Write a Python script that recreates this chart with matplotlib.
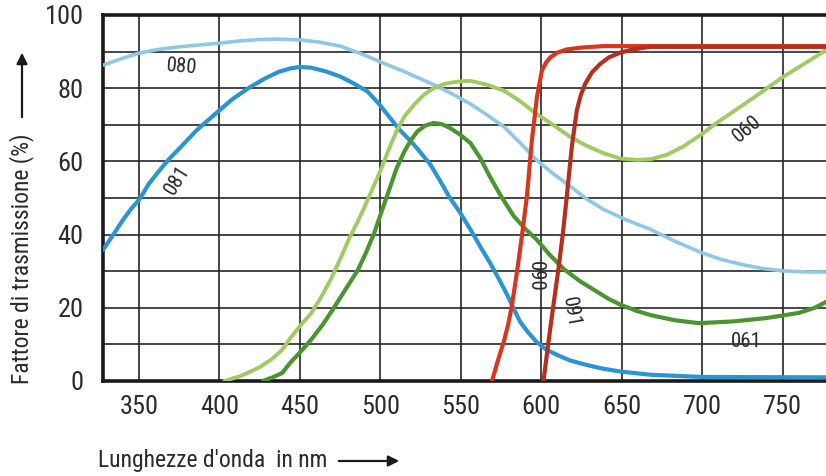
import matplotlib
matplotlib.use("Agg")
import matplotlib.pyplot as plt
from matplotlib import font_manager

# ---------------- data ----------------
wl_080 = [327.6, 340, 350, 362, 375, 387, 400, 412, 425, 437, 450, 462, 475, 487, 500, 515, 531, 544, 556, 566,
          577, 587, 597, 607, 618, 628, 639, 653, 668, 684, 700, 712, 725, 738, 750, 765, 777]
t_080 = [86.3, 88.2, 89.6, 90.6, 91.3, 91.8, 92.3, 92.9, 93.3, 93.4, 93.2, 92.6, 91.5, 89.6, 87.2, 84.5, 81.4, 78.6, 75.7, 72.8,
         69.4, 65.0, 60.4, 56.8, 53.2, 49.8, 46.8, 44.0, 41.4, 38.0, 35.0, 33.2, 31.8, 30.7, 30.1, 29.8, 29.8]

wl_081 = [327.6, 334, 340, 345, 350, 356, 363, 369, 375, 386, 398, 408, 419, 428, 437, 444, 450, 457, 466, 475,
          483, 492, 499, 506, 512, 519, 525, 531, 537, 543, 550, 556, 562, 568, 574, 579, 583, 587, 592, 597,
          603, 610, 618, 628, 638, 649, 668, 700, 777]
t_081 = [35.8, 40.0, 44.0, 47.0, 49.5, 53.8, 57.7, 60.8, 63.5, 68.6, 73.2, 77.0, 80.3, 82.6, 84.5, 85.4, 85.8, 85.6, 84.6, 83.2,
         81.4, 79.1, 75.8, 71.9, 68.6, 65.5, 62.4, 59.2, 54.8, 50.2, 45.7, 41.4, 36.8, 32.4, 27.6, 23.4, 19.6, 16.1, 13.2, 10.7,
         8.6, 7.1, 5.6, 4.4, 3.4, 2.6, 1.7, 1.1, 1.0]

wl_060 = [403, 412, 418, 425, 432, 439, 444, 450, 457, 463, 469, 475, 481, 486, 490, 495, 500, 505, 510, 515,
          521, 527, 533, 540, 548, 556, 566, 577, 587, 597, 608, 618, 628, 639, 649, 660, 668, 678, 688, 699,
          709, 720, 730, 740, 750, 764, 777]
t_060 = [0.0, 1.2, 2.3, 3.8, 5.8, 8.5, 11.7, 15.0, 18.5, 22.8, 27.6, 33.3, 39.3, 43.6, 47.4, 52.4, 57.4, 63.0, 68.2, 72.3,
         75.5, 78.2, 80.0, 81.2, 81.8, 82.0, 81.0, 79.3, 76.4, 73.0, 69.8, 66.7, 64.3, 62.2, 60.8, 60.4, 60.6, 61.8, 64.0, 67.2,
         70.5, 73.8, 76.8, 79.9, 83.0, 86.8, 90.4]

wl_061 = [427, 433, 439, 444, 450, 457, 464, 471, 478, 486, 491, 496, 501, 506, 510, 515, 519, 523, 528, 533,
          538, 543, 549, 556, 562, 568, 575, 583, 590, 597, 605, 614, 624, 635, 642, 650, 659, 668, 683, 698,
          720, 740, 760, 770, 777]
t_061 = [0.0, 1.0, 2.2, 5.0, 7.8, 11.3, 15.3, 19.9, 24.8, 30.3, 35.0, 40.2, 46.6, 52.9, 58.0, 62.8, 65.8, 68.2, 69.8, 70.5,
         70.2, 69.2, 67.5, 65.0, 61.0, 55.9, 50.5, 45.0, 41.6, 38.7, 34.6, 30.6, 27.3, 24.3, 22.4, 20.7, 19.2, 18.0, 16.6, 15.8,
         16.3, 17.2, 18.6, 20.0, 21.6]

wl_090 = [569.4, 573, 576.7, 579.5, 581.8, 585, 588, 591.1, 594.2, 596, 597.3, 599, 600.4, 603, 605.6, 610, 615.9, 625, 638.6, 777]
t_090 = [0.0, 5.5, 10.7, 15.5, 20.7, 30.0, 39.6, 50.5, 65.8, 72.5, 77.5, 81.5, 84.8, 87.0, 88.4, 89.7, 90.6, 91.1, 91.5, 91.5]

wl_091 = [601.4, 604.5, 607.5, 610.7, 613.5, 615.9, 619, 622.1, 624.5, 627.3, 631.5, 636.6, 642, 649, 657, 667.6, 777]
t_091 = [0.0, 10.7, 20.5, 30.6, 40.5, 50.5, 64.0, 73.9, 78.0, 81.2, 84.3, 86.6, 88.4, 89.7, 90.6, 91.3, 91.3]

x_ticks = [350, 400, 450, 500, 550, 600, 650, 700, 750]
y_ticks = [0, 20, 40, 60, 80, 100]
y_minor = [10, 30, 50, 70, 90]

# ---------------- style ----------------
avail = {f.name for f in font_manager.fontManager.ttflist}
fam = [f for f in ["Liberation Sans Narrow", "Roboto Condensed", "Liberation Sans"] if f in avail] + ["DejaVu Sans"]
plt.rcParams["font.family"] = fam

W, H = 826, 476
fig = plt.figure(figsize=(W / 100, H / 100), dpi=100)
ax = fig.add_axes([103 / W, 1 - 381 / H, 1 - 103 / W, (381 - 15) / H])

txt = "#2b2b2b"
grid_c = "#262626"

line_kw = dict(solid_capstyle="round", solid_joinstyle="round")
ax.plot(wl_080, t_080, color="#8fc8e4", lw=2.6, zorder=3, **line_kw)
ax.plot(wl_081, t_081, color="#2b95cf", lw=3.0, zorder=3, **line_kw)
ax.plot(wl_060, t_060, color="#9fcb62", lw=2.8, zorder=3, **line_kw)
ax.plot(wl_061, t_061, color="#4b9530", lw=3.0, zorder=3, **line_kw)
ax.plot(wl_090, t_090, color="#d8361f", lw=3.0, zorder=4, **line_kw)
ax.plot(wl_091, t_091, color="#b3301f", lw=3.0, zorder=4, **line_kw)

ax.set_xlim(327.6, 777)
ax.set_ylim(0, 100)
ax.set_xticks(x_ticks)
ax.set_xticklabels([str(v) for v in x_ticks])
ax.set_yticks(y_ticks)
ax.set_yticklabels([str(v) for v in y_ticks])
ax.set_yticks(y_minor, minor=True)
ax.set_axisbelow(True)
ax.xaxis.grid(True, which="major", color=grid_c, lw=1.2)
ax.yaxis.grid(True, which="both", color=grid_c, lw=1.2)
ax.tick_params(which="both", length=0)
ax.tick_params(axis="x", labelsize=19, pad=10, colors=txt)
ax.tick_params(axis="y", labelsize=19, pad=14, colors=txt)

for s in ["left", "bottom", "top"]:
    ax.spines[s].set_linewidth(2.6)
    ax.spines[s].set_color("#1a1a1a")
ax.spines["right"].set_visible(False)

# curve labels
lab_kw = dict(fontsize=15, color=txt, ha="center", va="center", zorder=5)
ax.text(376.7, 85.8, "080", rotation=-5, **lab_kw)
ax.text(373.6, 54.9, "081", rotation=58, **lab_kw)
ax.text(596.6, 28.7, "090", rotation=-90, **lab_kw)
ax.text(618.3, 18.9, "091", rotation=-80, **lab_kw)
ax.text(728.3, 68.9, "060", rotation=40, **lab_kw)
ax.text(727.7, 10.9, "061", rotation=0, **lab_kw)

# axis labels with arrows
fig.text(22 / W, 1 - 384 / H, "Fattore di trasmissione (%)", rotation=90,
         rotation_mode="anchor", ha="left", va="center", fontsize=17, color=txt)
fig.add_artist(matplotlib.patches.FancyArrowPatch(
    (22 / W, 1 - 120 / H), (22 / W, 1 - 50 / H), transform=fig.transFigure,
    arrowstyle="-|>", mutation_scale=16, color="#1a1a1a", lw=1.6))

fig.text(98 / W, 1 - 461 / H, "Lunghezze d'onda  in nm", ha="left", va="center",
         fontsize=17, color=txt)
fig.add_artist(matplotlib.patches.FancyArrowPatch(
    (336 / W, 1 - 461 / H), (402 / W, 1 - 461 / H), transform=fig.transFigure,
    arrowstyle="-|>", mutation_scale=16, color="#1a1a1a", lw=1.6))

fig.savefig("out.png", dpi=100)
